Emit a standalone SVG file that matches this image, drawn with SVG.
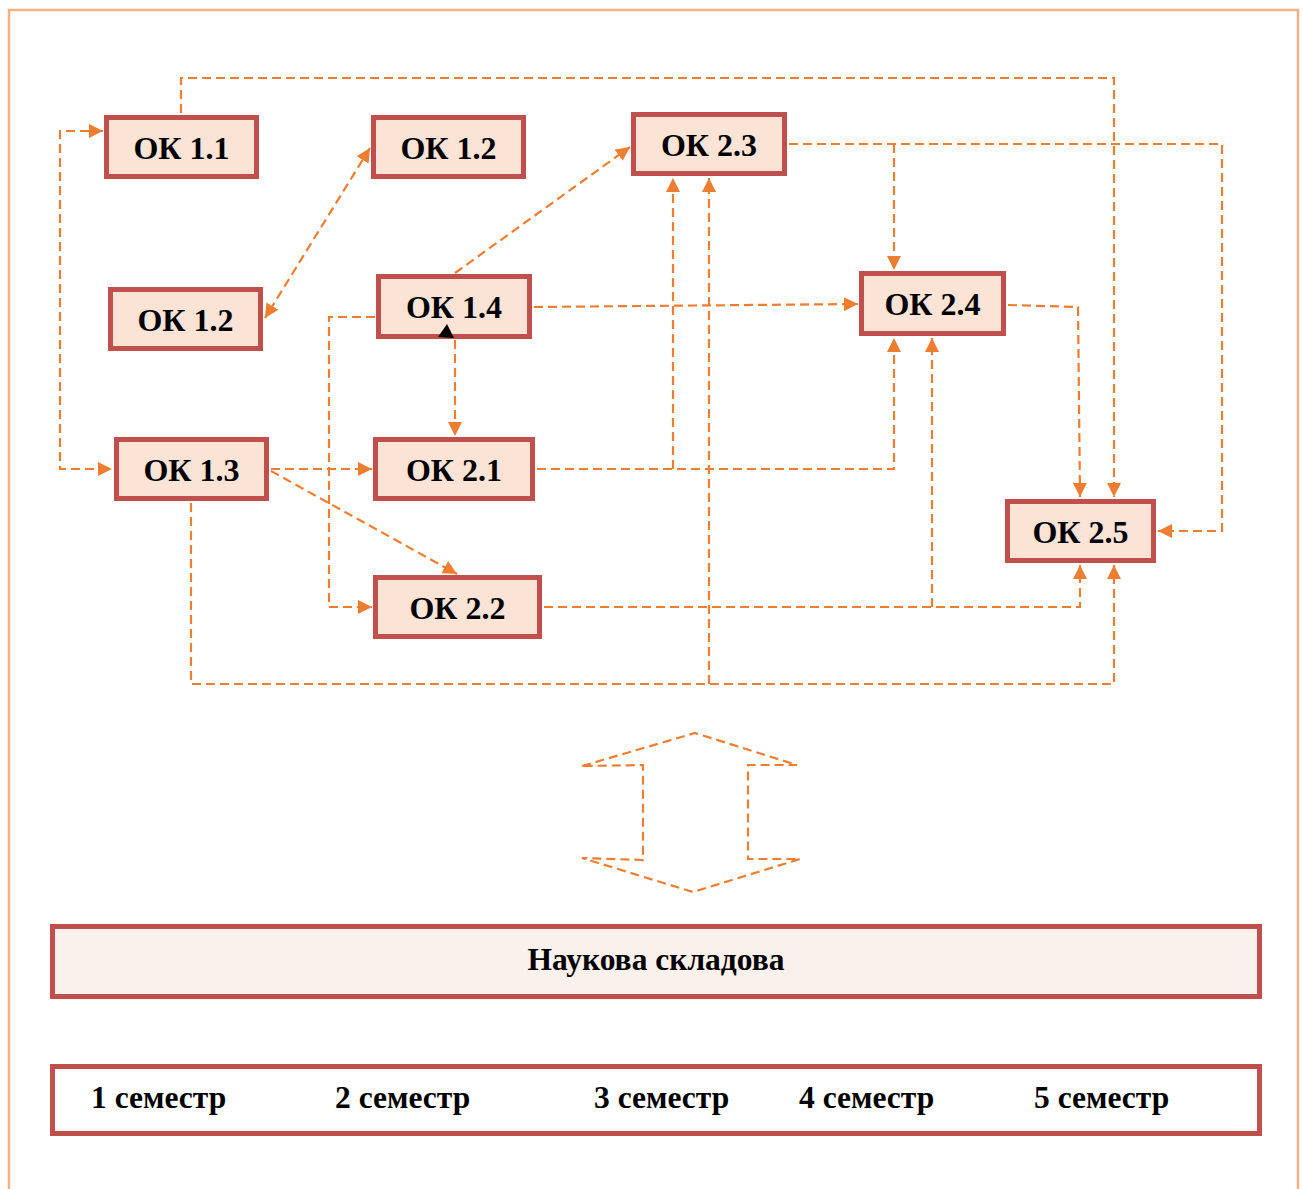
<svg xmlns="http://www.w3.org/2000/svg" width="1303" height="1189" viewBox="0 0 1303 1189">
<style>
.node rect{fill:#fbe4d5;stroke:#c0504d;stroke-width:5}
.node text{font-family:"Liberation Serif","Times New Roman",serif;font-weight:bold;font-size:32px;fill:#000;text-anchor:middle}
.conn path,.conn line,.conn polyline{fill:none;stroke:#ed7d31;stroke-width:2.2;stroke-dasharray:9 5}
.lbl{font-family:"Liberation Serif","Times New Roman",serif;font-weight:bold;font-size:31.5px;fill:#000}
</style>
<defs>
<marker id="ah" viewBox="0 0 12 12" refX="12" refY="6" markerWidth="14" markerHeight="14" markerUnits="userSpaceOnUse" orient="auto-start-reverse">
<path d="M0,0 L12,6 L0,12 z" fill="#ed7d31"/>
</marker>
</defs>
<rect width="1303" height="1189" fill="#fff"/>
<path d="M9,1189 V10 H1298 V1189" fill="none" stroke="#f4b183" stroke-width="2.5"/>

<g class="conn">
<polyline points="181,113 181,78 1114,78 1114,497" marker-end="url(#ah)"/>
<polyline points="103,131 60,131 60,469 112,469" marker-start="url(#ah)" marker-end="url(#ah)"/>
<line x1="370" y1="148" x2="265" y2="318" marker-start="url(#ah)" marker-end="url(#ah)"/>
<line x1="455" y1="273" x2="630" y2="147" marker-end="url(#ah)"/>
<line x1="534" y1="307" x2="858" y2="304" marker-end="url(#ah)"/>
<polyline points="375,317 329,317 329,607 372,607" marker-end="url(#ah)"/>
<line x1="455" y1="340" x2="455" y2="436" marker-end="url(#ah)"/>
<line x1="271" y1="469" x2="372" y2="469" marker-end="url(#ah)"/>
<line x1="271" y1="471" x2="457" y2="574" marker-end="url(#ah)"/>
<polyline points="191,503 191,684 1114,684 1114,565" marker-end="url(#ah)"/>
<line x1="709" y1="684" x2="709" y2="178" marker-end="url(#ah)"/>
<polyline points="537,469 894,469 894,338" marker-end="url(#ah)"/>
<line x1="673" y1="469" x2="673" y2="178" marker-end="url(#ah)"/>
<polyline points="544,607 1080,607 1080,565" marker-end="url(#ah)"/>
<line x1="932" y1="607" x2="932" y2="338" marker-end="url(#ah)"/>
<polyline points="789,144 1222,144 1222,531 1158,531" marker-end="url(#ah)"/>
<line x1="894" y1="144" x2="894" y2="270" marker-end="url(#ah)"/>
<polyline points="1008,305 1078,307 1080,497" marker-end="url(#ah)"/>
<polygon points="582,766 695,733 797,765 748,765 748,859 800,859 693,892 582,858 643,860 643,765" fill="none" stroke="#ed7d31" stroke-width="2.2" stroke-dasharray="9 5"/>
</g>

<g id="ok11" class="node"><rect x="106.5" y="117.5" width="150" height="59"/><text x="181.5" y="159">ОК 1.1</text></g>
<g id="ok12a" class="node"><rect x="373.5" y="117.5" width="150" height="59"/><text x="448.5" y="159">ОК 1.2</text></g>
<g id="ok23" class="node"><rect x="633.5" y="114.5" width="151" height="59"/><text x="709" y="156">ОК 2.3</text></g>
<g id="ok12b" class="node"><rect x="110.5" y="289.5" width="150" height="59"/><text x="185.5" y="331">ОК 1.2</text></g>
<g id="ok14" class="node"><rect x="378.5" y="276.5" width="151" height="60"/><text x="454" y="318">ОК 1.4</text>
<polygon points="447,324 438,337 454,338" fill="#000"/></g>
<g id="ok24" class="node"><rect x="861.5" y="273.5" width="142" height="60"/><text x="932.5" y="315">ОК 2.4</text></g>
<g id="ok13" class="node"><rect x="116.5" y="439.5" width="150" height="59"/><text x="191.5" y="481">ОК 1.3</text></g>
<g id="ok21" class="node"><rect x="375.5" y="439.5" width="157" height="59"/><text x="454" y="481">ОК 2.1</text></g>
<g id="ok25" class="node"><rect x="1007.5" y="501.5" width="146" height="59"/><text x="1080.5" y="543">ОК 2.5</text></g>
<g id="ok22" class="node"><rect x="375.5" y="577.5" width="164" height="59"/><text x="457.5" y="619">ОК 2.2</text></g>

<g id="science">
<rect x="52.5" y="926.5" width="1207" height="70" fill="#fbf1ec" stroke="#c0504d" stroke-width="5"/>
<text class="lbl" x="656" y="970" text-anchor="middle" font-size="32">Наукова складова</text>
</g>
<g id="semesters">
<rect x="52.5" y="1066.5" width="1207" height="67" fill="#fff" stroke="#c0504d" stroke-width="5"/>
<text class="lbl" x="91" y="1108">1 семестр</text>
<text class="lbl" x="335" y="1108">2 семестр</text>
<text class="lbl" x="594" y="1108">3 семестр</text>
<text class="lbl" x="799" y="1108">4 семестр</text>
<text class="lbl" x="1034" y="1108">5 семестр</text>
</g>
</svg>
